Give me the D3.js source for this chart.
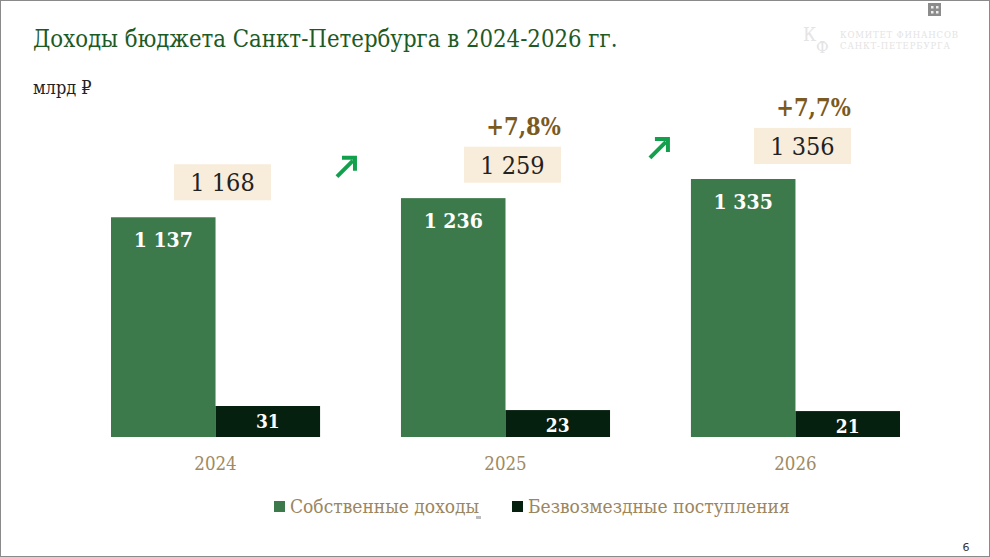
<!DOCTYPE html>
<html>
<head>
<meta charset="utf-8">
<script src="https://cdn.jsdelivr.net/npm/d3@7"></script>
<style>
  body { margin: 0; background: #fff; }
  svg { display: block; }
</style>
</head>
<body>
<div id="chart"></div>
<script>
// data
const years = ["2024", "2025", "2026"];
const ownIncome = [1137, 1236, 1335];
const grants = [31, 23, 21];
const totals = [1168, 1259, 1356];
const growth = ["", "+7,8%", "+7,7%"];
const seriesNames = ["Собственные доходы", "Безвозмездные поступления"];

const w = 990, h = 557;
const serif = "'DejaVu Serif Condensed', 'DejaVu Serif', serif";
const baseline = 437;
const fmt = v => d3.format(",")(v).replace(",", " ");

const svg = d3.select("#chart").append("svg")
    .attr("width", w)
    .attr("height", h);

// slide frame
svg.append("rect")
    .attr("x", 0.5).attr("y", 0.5)
    .attr("width", w - 1).attr("height", h - 1)
    .attr("fill", "none")
    .attr("stroke", "#8a8a8a");

// title
svg.append("text")
    .attr("x", 33).attr("y", 47)
    .attr("fill", "#1d5a24")
    .style("font-family", serif)
    .style("font-size", "23.7px")
    .text("Доходы бюджета Санкт-Петербурга в 2024-2026 гг.");

svg.append("text")
    .attr("x", 33).attr("y", 94)
    .attr("fill", "#222")
    .style("font-family", serif)
    .style("font-size", "18px")
    .text("млрд ₽");

// faint logo top right
const logo = svg.append("g").attr("fill", "#e4e4e4").style("font-family", serif);
logo.append("text").attr("x", 803).attr("y", 41).style("font-size", "19px").text("К");
logo.append("text").attr("x", 816).attr("y", 53).style("font-size", "17px").text("Ф");
logo.append("text").attr("x", 840).attr("y", 38).attr("textLength", 118).style("font-size", "9.5px").text("КОМИТЕТ ФИНАНСОВ");
logo.append("text").attr("x", 840).attr("y", 49).attr("textLength", 110).style("font-size", "9.5px").text("САНКТ-ПЕТЕРБУРГА");
svg.append("rect")
    .attr("x", 928).attr("y", 3).attr("width", 13).attr("height", 13)
    .attr("fill", "#8c8c8c");
[[931, 6], [936, 6], [931, 11], [936, 11]].forEach(p => {
    svg.append("rect")
        .attr("x", p[0]).attr("y", p[1]).attr("width", 2.5).attr("height", 2.5)
        .attr("fill", "#eee");
});

// scales
const xScale = d3.scaleBand()
    .domain(years)
    .range([111, 900])
    .paddingInner(0.279)
    .paddingOuter(0);

const xSub = d3.scaleBand()
    .domain(seriesNames)
    .range([0, xScale.bandwidth()]);

const yScale = d3.scaleLinear()
    .domain([0, 1335])
    .range([baseline, baseline - 258]);

// second axis for the small series
const y2Scale = d3.scaleLinear()
    .domain([-30, 31])
    .range([baseline, baseline - 31]);

const colors = ["#3d7a4b", "#062010"];

const groups = svg.append("g")
    .selectAll("g")
    .data(years)
    .enter()
    .append("g")
    .attr("transform", d => `translate(${xScale(d)},0)`);

// own income bars
groups.append("rect")
    .attr("x", xSub(seriesNames[0]))
    .attr("y", (d, i) => yScale(ownIncome[i]))
    .attr("width", xSub.bandwidth())
    .attr("height", (d, i) => baseline - yScale(ownIncome[i]))
    .attr("fill", colors[0]);

groups.append("text")
    .attr("x", xSub(seriesNames[0]) + xSub.bandwidth() / 2)
    .attr("y", (d, i) => yScale(ownIncome[i]) + 30)
    .attr("text-anchor", "middle")
    .attr("fill", "#fff")
    .style("font-family", serif)
    .style("font-weight", "bold")
    .style("font-size", "21px")
    .text((d, i) => fmt(ownIncome[i]));

// grants bars
groups.append("rect")
    .attr("x", xSub(seriesNames[1]))
    .attr("y", (d, i) => y2Scale(grants[i]))
    .attr("width", xSub.bandwidth())
    .attr("height", (d, i) => baseline - y2Scale(grants[i]))
    .attr("fill", colors[1]);

groups.append("text")
    .attr("x", xSub(seriesNames[1]) + xSub.bandwidth() / 2)
    .attr("y", (d, i) => y2Scale(grants[i]) + 22)
    .attr("text-anchor", "middle")
    .attr("fill", "#fff")
    .style("font-family", serif)
    .style("font-weight", "bold")
    .style("font-size", "19px")
    .text((d, i) => grants[i]);

// total boxes
const boxW = 97, boxH = 36;
const boxCx = xScale.bandwidth() / 2 + 7;
groups.append("rect")
    .attr("x", boxCx - boxW / 2)
    .attr("y", (d, i) => yScale(totals[i]) - 29 - boxH / 2)
    .attr("width", boxW)
    .attr("height", boxH)
    .attr("fill", "#f8ecda");

groups.append("text")
    .attr("x", boxCx)
    .attr("y", (d, i) => yScale(totals[i]) - 29 + 9)
    .attr("text-anchor", "middle")
    .attr("fill", "#222")
    .style("font-family", serif)
    .style("font-size", "25px")
    .text((d, i) => fmt(totals[i]));

// growth labels and arrows
const withGrowth = groups.filter((d, i) => growth[i] !== "");

withGrowth.append("text")
    .attr("x", boxCx + 11)
    .attr("y", d => yScale(totals[years.indexOf(d)]) - 59)
    .attr("text-anchor", "middle")
    .attr("fill", "#7b5a1f")
    .style("font-family", serif)
    .style("font-weight", "bold")
    .style("font-size", "23.5px")
    .text(d => growth[years.indexOf(d)]);

withGrowth.append("g")
    .attr("transform", d => {
        const i = years.indexOf(d);
        const ax = -55 + (i - 1) * 23;
        const ay = yScale(totals[i]) - 27;
        return `translate(${ax},${ay})`;
    })
    .call(g => {
        g.append("path")
            .attr("d", "M-9,10 L7,-6")
            .attr("stroke", "#12a04c")
            .attr("stroke-width", 4)
            .attr("fill", "none");
        g.append("path")
            .attr("d", "M-4,-9 L9,-9 L9,4")
            .attr("stroke", "#12a04c")
            .attr("stroke-width", 4)
            .attr("fill", "none");
    });

// x axis labels
svg.append("g")
    .selectAll("text")
    .data(years)
    .enter()
    .append("text")
    .attr("x", d => xScale(d) + xScale.bandwidth() / 2)
    .attr("y", 470)
    .attr("text-anchor", "middle")
    .attr("fill", "#a08a62")
    .style("font-family", serif)
    .style("font-size", "18.5px")
    .text(d => d);

// legend
const legend = svg.append("g").attr("transform", "translate(274,513)");
const legendX = [0, 238];
seriesNames.forEach((name, i) => {
    legend.append("rect")
        .attr("x", legendX[i]).attr("y", -12)
        .attr("width", 11).attr("height", 11)
        .attr("fill", colors[i]);
    legend.append("text")
        .attr("x", legendX[i] + 16).attr("y", 0)
        .attr("fill", "#9b8660")
        .style("font-family", serif)
        .style("font-size", "19px")
        .text(name);
});
legend.append("rect")
    .attr("x", 202).attr("y", 3).attr("width", 5).attr("height", 3)
    .attr("fill", "#bbb");

// page number
svg.append("text")
    .attr("x", 966).attr("y", 551)
    .attr("text-anchor", "middle")
    .attr("fill", "#333")
    .style("font-family", "'DejaVu Sans', sans-serif")
    .style("font-size", "11px")
    .text("6");
</script>
</body>
</html>
